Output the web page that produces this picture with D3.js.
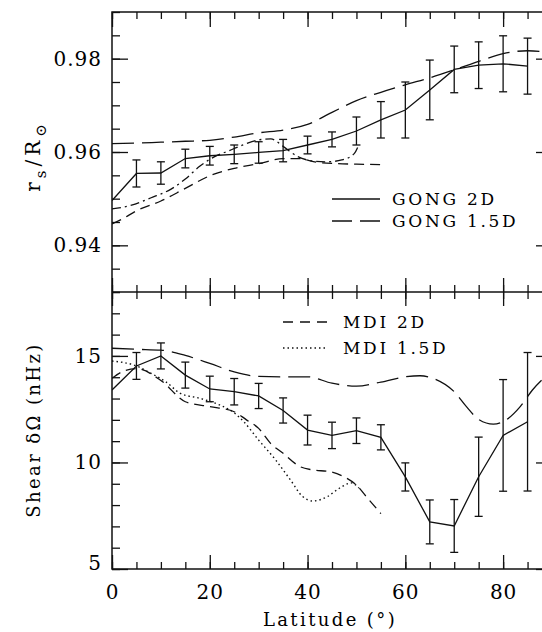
<!DOCTYPE html>
<html>
<head>
<meta charset="utf-8">
<script src="https://cdn.jsdelivr.net/npm/d3@7"></script>
<style>
  html, body { margin: 0; padding: 0; background: #fff; }
  svg text { font-family: "DejaVu Serif", serif; fill: #000; }
</style>
</head>
<body>
<svg id="chart" width="542" height="632"></svg>
<script>
// ---- Data -------------------------------------------------------------
// Latitudes (degrees) of the GONG 2D inversion points
const gongLat = [0, 5, 10, 15, 20, 25, 30, 35, 40, 45, 50, 55, 60, 65, 70, 75, 80, 85];

// Upper panel: tachocline position r_s / R_sun
const gong2dRadius    = [0.9496, 0.9554, 0.9555, 0.9586, 0.9592, 0.9595, 0.9599, 0.9603, 0.9615, 0.9627,
                         0.9645, 0.9669, 0.9690, 0.9733, 0.9777, 0.9786, 0.9789, 0.9784];
const gong2dRadiusErr = [null, 0.0029, 0.0024, 0.0020, 0.0020, 0.0020, 0.0023, 0.0024, 0.0019, 0.0016,
                         0.0030, 0.0039, 0.0060, 0.0064, 0.0050, 0.0050, 0.0060, 0.0060];

const gong15dRadiusLat = [0, 5, 10, 15, 20, 25, 30, 35, 40, 45, 50, 55, 60, 65, 70, 75, 80, 85, 90];
const gong15dRadius    = [0.9618, 0.9619, 0.9621, 0.9623, 0.9625, 0.9632, 0.9641, 0.9647, 0.9659, 0.9685,
                          0.9710, 0.9728, 0.9744, 0.9759, 0.9776, 0.9794, 0.9811, 0.9817, 0.9813];

const mdi2dRadiusLat = [0, 2, 5, 10, 15, 20, 25, 30, 35, 38, 42, 46, 50, 55];
const mdi2dRadius    = [0.9446, 0.9456, 0.9474, 0.9495, 0.9522, 0.9549, 0.9565, 0.9575, 0.9586, 0.9586,
                        0.9578, 0.9575, 0.9574, 0.9573];

const mdi15dRadiusLat = [0, 4, 8, 12, 15, 18, 21, 24, 27, 30, 32.5, 35, 38, 41, 44, 47, 49.5, 50.5];
const mdi15dRadius    = [0.9478, 0.9486, 0.9502, 0.9520, 0.9542, 0.9570, 0.9590, 0.9603, 0.9616, 0.9626,
                         0.9628, 0.9612, 0.9590, 0.9581, 0.9579, 0.9583, 0.9596, 0.9616];

// Lower panel: rotational shear across the tachocline (nHz)
const gong2dShear    = [13.40, 14.53, 15.00, 14.10, 13.45, 13.32, 13.12, 12.44, 11.52, 11.27,
                        11.49, 11.18, 9.32, 7.21, 7.02, 9.33, 11.27, 11.91];
const gong2dShearErr = [null, 0.63, 0.61, 0.61, 0.60, 0.62, 0.59, 0.59, 0.70, 0.62,
                        0.60, 0.59, 0.66, 1.03, 1.24, 1.86, 2.62, 3.25];

const gong15dShearLat = [0, 5, 10, 15, 20, 25, 30, 35, 40, 45, 50, 55, 60, 63, 66, 70, 72.5, 75, 78, 80.5, 83.5, 86, 90];
const gong15dShear    = [15.36, 15.31, 15.27, 15.02, 14.65, 14.25, 14.04, 14.02, 14.02, 13.72, 13.58, 13.77,
                         14.02, 14.07, 13.92, 13.32, 12.62, 12.02, 11.80, 11.98, 12.62, 13.40, 14.30];

const mdi2dShearLat = [0, 2.5, 5, 10, 15, 20, 25, 27.5, 30, 32.5, 35, 38.5, 41, 44.5, 48, 50, 52, 55];
const mdi2dShear    = [13.95, 14.30, 14.40, 13.85, 12.85, 12.62, 12.38, 12.00, 11.60, 10.88, 10.43, 9.80,
                       9.65, 9.57, 9.26, 8.94, 8.40, 7.60];

const mdi15dShearLat = [0, 5, 8, 11, 14, 18, 22, 25, 27, 30, 33.5, 36.5, 39, 41, 44, 46.5, 49, 50.5];
const mdi15dShear    = [14.76, 14.53, 14.18, 13.79, 13.24, 13.01, 12.70, 12.33, 11.90, 11.05, 10.11, 9.18,
                        8.40, 8.19, 8.39, 8.79, 9.04, 8.80];

// Axis tick values
const xMajorTicks = [0, 20, 40, 60, 80];
const xMinorTicks = d3.range(0, 91, 5);
const radiusMajorTicks = [0.94, 0.96, 0.98];
const radiusMinorTicks = d3.range(0, 13).map(i => +(0.93 + i * 0.005).toFixed(3));
const shearMajorTicks = [5, 10, 15];
const shearMinorTicks = d3.range(5, 19);

// ---- Layout -----------------------------------------------------------
const svg = d3.select("#chart");
const plotLeft = 112, plotRight = 552, plotTop = 12, plotMid = 292, plotBottom = 569;

const x = d3.scaleLinear().domain([0, 90]).range([plotLeft, plotRight]);
const yTop = d3.scaleLinear().domain([0.93, 0.99]).range([plotMid, plotTop]);
const yBot = d3.scaleLinear().domain([5, 18]).range([plotBottom, plotMid]);

const defs = svg.append("defs");
defs.append("clipPath").attr("id", "clipTop")
  .append("rect").attr("x", plotLeft).attr("y", plotTop)
  .attr("width", plotRight - plotLeft).attr("height", plotMid - plotTop);
defs.append("clipPath").attr("id", "clipBot")
  .append("rect").attr("x", plotLeft).attr("y", plotMid)
  .attr("width", plotRight - plotLeft).attr("height", plotBottom - plotMid);

const STROKE = "#111";

// ---- Axes and frame ---------------------------------------------------
function tickAxis(axisFn, scale, values, size, tx, ty) {
  const g = svg.append("g").attr("transform", `translate(${tx},${ty})`)
    .call(axisFn(scale).tickValues(values).tickSize(size).tickSizeOuter(0).tickFormat(""));
  g.select(".domain").remove();
  g.selectAll("line").attr("stroke", STROKE).attr("stroke-width", 1.3);
  return g;
}

// horizontal edges: top of upper panel, shared middle line, bottom
tickAxis(d3.axisBottom, x, xMinorTicks, 7, 0, plotTop);
tickAxis(d3.axisBottom, x, xMajorTicks, 15, 0, plotTop);
tickAxis(d3.axisTop, x, xMinorTicks, 7, 0, plotMid);
tickAxis(d3.axisTop, x, xMajorTicks, 14, 0, plotMid);
tickAxis(d3.axisBottom, x, xMinorTicks, 7, 0, plotMid);
tickAxis(d3.axisBottom, x, xMajorTicks, 14, 0, plotMid);
tickAxis(d3.axisTop, x, xMinorTicks, 7, 0, plotBottom);
tickAxis(d3.axisTop, x, xMajorTicks, 14, 0, plotBottom);

// vertical edges
tickAxis(d3.axisRight, yTop, radiusMinorTicks, 8, plotLeft, 0);
tickAxis(d3.axisRight, yTop, radiusMajorTicks, 16, plotLeft, 0);
tickAxis(d3.axisLeft, yTop, radiusMinorTicks, 8, plotRight, 0);
tickAxis(d3.axisLeft, yTop, radiusMajorTicks, 16, plotRight, 0);
tickAxis(d3.axisRight, yBot, shearMinorTicks, 8, plotLeft, 0);
tickAxis(d3.axisRight, yBot, shearMajorTicks, 16, plotLeft, 0);
tickAxis(d3.axisLeft, yBot, shearMinorTicks, 8, plotRight, 0);
tickAxis(d3.axisLeft, yBot, shearMajorTicks, 16, plotRight, 0);

// frame lines
svg.append("rect").attr("x", plotLeft).attr("y", plotTop)
  .attr("width", plotRight - plotLeft).attr("height", plotBottom - plotTop)
  .attr("fill", "none").attr("stroke", STROKE).attr("stroke-width", 1.5);
svg.append("line").attr("x1", plotLeft).attr("x2", plotRight).attr("y1", plotMid).attr("y2", plotMid)
  .attr("stroke", STROKE).attr("stroke-width", 1.5);

// tick labels
const labelFont = 20;
function labelAxis(axisFn, scale, values, fmt, pad, tx, ty) {
  const g = svg.append("g").attr("transform", `translate(${tx},${ty})`)
    .call(axisFn(scale).tickValues(values).tickSize(0).tickPadding(pad).tickFormat(fmt));
  g.select(".domain").remove();
  g.selectAll("text").attr("font-size", labelFont).attr("letter-spacing", 1)
    .attr("font-family", "DejaVu Serif").attr("fill", "#000");
  return g;
}
labelAxis(d3.axisLeft, yTop, radiusMajorTicks, d3.format(".2f"), 10, plotLeft, 0);
const shearLabels = labelAxis(d3.axisLeft, yBot, shearMajorTicks, d3.format("d"), 10, plotLeft, 0);
// the label on the panel's bottom edge is lifted slightly clear of the x labels
shearLabels.selectAll(".tick").filter(d => d === 5).select("text").attr("y", -6);
labelAxis(d3.axisBottom, x, xMajorTicks, d3.format("d"), 16, 0, plotBottom);

// axis titles
svg.append("text")
  .attr("x", 330).attr("y", 626)
  .attr("text-anchor", "middle").attr("font-size", 18).attr("letter-spacing", 2.4)
  .text("Latitude (°)");

const rTitle = svg.append("text")
  .attr("transform", "translate(40,156) rotate(-90)")
  .attr("text-anchor", "middle").attr("font-size", 20).attr("letter-spacing", 4);
rTitle.append("tspan").text("r");
rTitle.append("tspan").attr("font-size", 15).attr("dy", 6).text("s");
rTitle.append("tspan").attr("dy", -6).text("/R");
rTitle.append("tspan").attr("font-size", 15).attr("dy", 6).text("⊙");

svg.append("text")
  .attr("transform", "translate(40,430) rotate(-90)")
  .attr("text-anchor", "middle").attr("font-size", 18).attr("letter-spacing", 2.4)
  .text("Shear δΩ (nHz)");

// ---- Series -----------------------------------------------------------
function series(lats, vals) { return lats.map((l, i) => ({ lat: l, v: vals[i] })); }

function drawCurve(g, data, y, dash, curve, width) {
  g.append("path")
    .datum(data)
    .attr("fill", "none")
    .attr("stroke", STROKE)
    .attr("stroke-width", width || 1.3)
    .attr("stroke-dasharray", dash)
    .attr("d", d3.line().x(d => x(d.lat)).y(d => y(d.v)).curve(curve));
}

function drawErrors(g, lats, vals, errs, y) {
  const pts = lats.map((l, i) => ({ lat: l, v: vals[i], e: errs[i] })).filter(d => d.e != null);
  const eg = g.append("g").attr("stroke", STROKE).attr("stroke-width", 1.3);
  eg.selectAll("line.bar").data(pts).join("line").attr("class", "bar")
    .attr("x1", d => x(d.lat)).attr("x2", d => x(d.lat))
    .attr("y1", d => y(d.v - d.e)).attr("y2", d => y(d.v + d.e));
  eg.selectAll("line.capLo").data(pts).join("line").attr("class", "capLo")
    .attr("x1", d => x(d.lat) - 4).attr("x2", d => x(d.lat) + 4)
    .attr("y1", d => y(d.v - d.e)).attr("y2", d => y(d.v - d.e));
  eg.selectAll("line.capHi").data(pts).join("line").attr("class", "capHi")
    .attr("x1", d => x(d.lat) - 4).attr("x2", d => x(d.lat) + 4)
    .attr("y1", d => y(d.v + d.e)).attr("y2", d => y(d.v + d.e));
}

// upper panel
const gTop = svg.append("g").attr("clip-path", "url(#clipTop)");
drawCurve(gTop, series(gong15dRadiusLat, gong15dRadius), yTop, "22,8", d3.curveMonotoneX);
drawCurve(gTop, series(mdi2dRadiusLat, mdi2dRadius), yTop, "10,6", d3.curveMonotoneX);
drawCurve(gTop, series(mdi15dRadiusLat, mdi15dRadius), yTop, "9,4,2,4", d3.curveMonotoneX);
drawCurve(gTop, series(gongLat, gong2dRadius), yTop, null, d3.curveLinear);
drawErrors(gTop, gongLat, gong2dRadius, gong2dRadiusErr, yTop);

// lower panel
const gBot = svg.append("g").attr("clip-path", "url(#clipBot)");
drawCurve(gBot, series(gong15dShearLat, gong15dShear), yBot, "22,8", d3.curveMonotoneX);
drawCurve(gBot, series(mdi2dShearLat, mdi2dShear), yBot, "10,6", d3.curveMonotoneX);
drawCurve(gBot, series(mdi15dShearLat, mdi15dShear), yBot, "1.5,3", d3.curveMonotoneX, 1.4);
drawCurve(gBot, series(gongLat, gong2dShear), yBot, null, d3.curveLinear);
drawErrors(gBot, gongLat, gong2dShear, gong2dShearErr, yBot);

// ---- Legends ----------------------------------------------------------
function legendEntry(x1, x2, yPos, dash, label, textX) {
  svg.append("line").attr("x1", x1).attr("x2", x2).attr("y1", yPos).attr("y2", yPos)
    .attr("stroke", STROKE).attr("stroke-width", 1.3).attr("stroke-dasharray", dash);
  svg.append("text").attr("x", textX).attr("y", yPos).attr("dy", "0.36em")
    .attr("font-size", 17).attr("letter-spacing", 2.7).text(label);
}
legendEntry(332, 380, 199, null, "GONG 2D", 392);
legendEntry(332, 380, 221, "20,8", "GONG 1.5D", 392);
legendEntry(283, 327, 322, "10,7", "MDI 2D", 343);
legendEntry(283, 327, 348, "1.5,3", "MDI 1.5D", 343);
</script>
</body>
</html>
